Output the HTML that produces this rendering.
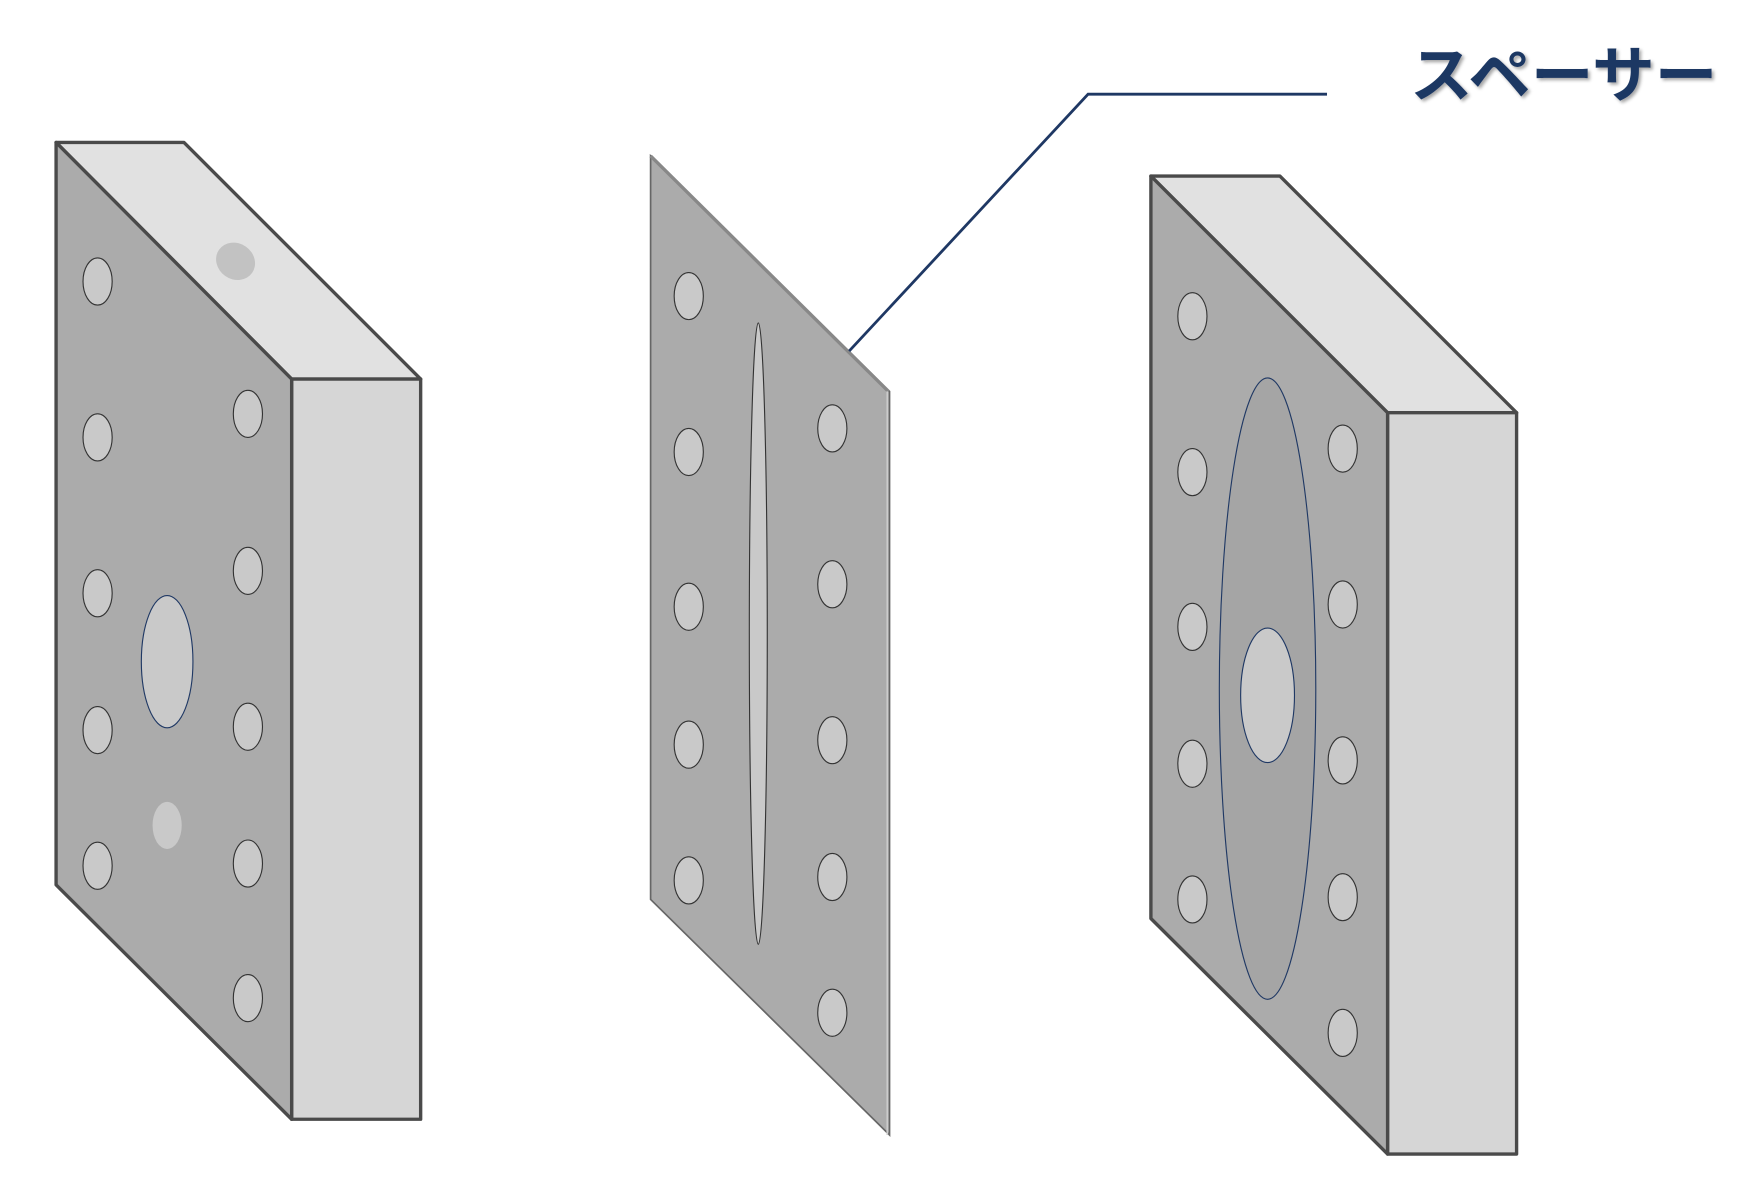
<!DOCTYPE html>
<html><head><meta charset="utf-8"><style>
html,body{margin:0;padding:0;background:#fff;width:1760px;height:1200px;overflow:hidden}
</style></head><body>
<svg width="1760" height="1200" viewBox="0 0 1569 1070" preserveAspectRatio="none" xmlns="http://www.w3.org/2000/svg">
<defs>
<filter id="sh" x="-10%" y="-10%" width="130%" height="140%"><feDropShadow dx="2" dy="2" stdDeviation="1.5" flood-color="#000" flood-opacity="0.35"/></filter>
</defs>
<g stroke="#4a4a4a" stroke-width="3" stroke-linejoin="round">
<polygon points="50,127 164,127 375,338 260,338" fill="#e1e1e1"/>
<polygon points="260,338 375,338 375,998 260,998" fill="#d6d6d6"/>
<polygon points="50,127 260,338 260,998 50,789" fill="#ababab"/>
</g>
<ellipse cx="210" cy="233" rx="18" ry="16" transform="rotate(35 210 233)" fill="#c2c2c2"/>
<g fill="#c9c9c9" stroke="#333" stroke-width="1">
<ellipse cx="87" cy="251" rx="13" ry="21"/><ellipse cx="87" cy="390" rx="13" ry="21"/><ellipse cx="87" cy="529" rx="13" ry="21"/><ellipse cx="87" cy="651" rx="13" ry="21"/><ellipse cx="87" cy="772" rx="13" ry="21"/>
<ellipse cx="221" cy="369" rx="13" ry="21"/><ellipse cx="221" cy="509" rx="13" ry="21"/><ellipse cx="221" cy="648" rx="13" ry="21"/><ellipse cx="221" cy="770" rx="13" ry="21"/><ellipse cx="221" cy="890" rx="13" ry="21"/>
</g>
<ellipse cx="149" cy="590" rx="23" ry="59" fill="#c9c9c9" stroke="#1f3864" stroke-width="1"/>
<ellipse cx="149" cy="736" rx="13" ry="21" fill="#c9c9c9"/>

<polygon points="580,139 793,349 793,1012 580,802" fill="#ababab" stroke="#666" stroke-width="1.5"/>
<line x1="580" y1="139" x2="792" y2="349" stroke="#888" stroke-width="3"/>
<line x1="791" y1="349" x2="791" y2="1012" stroke="#ccc" stroke-width="1.5"/>
<g fill="#c9c9c9" stroke="#333" stroke-width="1">
<ellipse cx="614" cy="264" rx="13" ry="21"/><ellipse cx="614" cy="403" rx="13" ry="21"/><ellipse cx="614" cy="541" rx="13" ry="21"/><ellipse cx="614" cy="664" rx="13" ry="21"/><ellipse cx="614" cy="785" rx="13" ry="21"/>
<ellipse cx="742" cy="382" rx="13" ry="21"/><ellipse cx="742" cy="521" rx="13" ry="21"/><ellipse cx="742" cy="660" rx="13" ry="21"/><ellipse cx="742" cy="782" rx="13" ry="21"/><ellipse cx="742" cy="903" rx="13" ry="21"/>
<ellipse cx="676" cy="565" rx="8" ry="277"/>
</g>
<polyline points="757,313 970,84 1183,84" fill="none" stroke="#1f3864" stroke-width="2.5"/>
<text x="1257" y="86" textLength="274" lengthAdjust="spacingAndGlyphs" font-family="'Liberation Sans','Noto Sans CJK JP',sans-serif" font-weight="bold" font-size="54" fill="#1f3864" filter="url(#sh)">スペーサー</text>

<g stroke="#4a4a4a" stroke-width="3" stroke-linejoin="round">
<polygon points="1026,157 1141,157 1352,368 1237,368" fill="#e1e1e1"/>
<polygon points="1237,368 1352,368 1352,1029 1237,1029" fill="#d6d6d6"/>
<polygon points="1026,157 1237,368 1237,1029 1026,819" fill="#ababab"/>
</g>
<ellipse cx="1130" cy="614" rx="43" ry="277" fill="#a5a5a5" stroke="#1f3864" stroke-width="1"/>
<ellipse cx="1130" cy="620" rx="24" ry="60" fill="#c9c9c9" stroke="#1f3864" stroke-width="1"/>
<g fill="#c9c9c9" stroke="#333" stroke-width="1">
<ellipse cx="1063" cy="282" rx="13" ry="21"/><ellipse cx="1063" cy="421" rx="13" ry="21"/><ellipse cx="1063" cy="559" rx="13" ry="21"/><ellipse cx="1063" cy="681" rx="13" ry="21"/><ellipse cx="1063" cy="802" rx="13" ry="21"/>
<ellipse cx="1197" cy="400" rx="13" ry="21"/><ellipse cx="1197" cy="539" rx="13" ry="21"/><ellipse cx="1197" cy="678" rx="13" ry="21"/><ellipse cx="1197" cy="800" rx="13" ry="21"/><ellipse cx="1197" cy="921" rx="13" ry="21"/>
</g>
</svg>
</body></html>
